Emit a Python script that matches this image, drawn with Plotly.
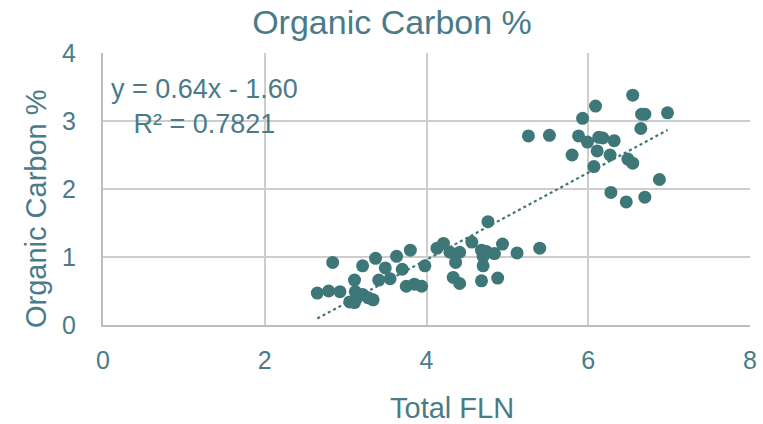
import plotly.graph_objects as go
import numpy as np

# Data
total_fln = [2.65, 2.79, 2.93, 2.84, 3.05, 3.11, 3.12, 3.14, 3.21, 3.28, 3.34, 3.11,
             3.21, 3.37, 3.49, 3.41, 3.55, 3.63, 3.70, 3.80, 3.75, 3.85, 3.94, 3.98,
             4.13, 4.21, 4.29, 4.41, 4.36, 4.33, 4.41, 4.56, 4.68, 4.72, 4.74, 4.70,
             4.70, 4.84, 4.68, 4.88, 4.94, 5.12, 4.76, 5.40,
             5.26, 5.52, 5.80, 5.88, 5.93, 5.99, 6.09, 6.11, 6.07, 6.13, 6.18, 6.27,
             6.32, 6.28, 6.47, 6.49, 6.55, 6.55, 6.65, 6.66, 6.70, 6.98, 6.70, 6.88]
organic_carbon = [0.47, 0.50, 0.49, 0.92, 0.34, 0.66, 0.49, 0.40, 0.45, 0.40, 0.37, 0.33,
                  0.87, 0.98, 0.84, 0.66, 0.68, 1.01, 0.82, 1.10, 0.57, 0.60, 0.57, 0.87,
                  1.13, 1.20, 1.07, 1.07, 0.92, 0.70, 0.61, 1.22, 1.10, 1.05, 1.08, 1.01,
                  0.87, 1.05, 0.65, 0.69, 1.19, 1.06, 1.52, 1.13,
                  2.78, 2.79, 2.50, 2.78, 3.04, 2.69, 3.22, 2.56, 2.33, 2.76, 2.75, 2.50,
                  2.71, 1.95, 1.81, 2.44, 2.38, 3.38, 2.89, 3.10, 3.10, 3.12, 1.88, 2.14]
slope = 0.64
intercept = -1.60
r_squared = 0.7821
x_ticks = [0, 2, 4, 6, 8]
y_ticks = [0, 1, 2, 3, 4]

marker_color = "#3E7778"
text_color = "#4A7B89"
grid_color = "#CDCDCD"
font_family = "Liberation Sans, Arial, sans-serif"

fig = go.Figure()
fig.add_trace(go.Scatter(
    x=total_fln, y=organic_carbon, mode="markers",
    marker=dict(color=marker_color, size=13, line=dict(width=0)),
    showlegend=False, hoverinfo="x+y"))

xl = np.array([min(total_fln), max(total_fln)])
fig.add_trace(go.Scatter(
    x=xl, y=slope * xl + intercept, mode="lines",
    line=dict(color=marker_color, width=2.2, dash="dot"),
    showlegend=False, hoverinfo="skip"))

# Trendline equation label
fig.add_annotation(
    x=1.26, y=3.21, xref="x", yref="y", xanchor="center", yanchor="middle",
    text=f"y = {slope:.2f}x - {abs(intercept):.2f}<br>R² = {r_squared}",
    showarrow=False, align="center",
    font=dict(family=font_family, size=27, color=text_color))

# Axis titles (placed as in the reference; paper coords relative to plot area)
fig.add_annotation(
    x=0.539, y=-0.305, xref="paper", yref="paper",
    xanchor="center", yanchor="middle", showarrow=False, text="Total FLN",
    font=dict(family=font_family, size=29, color=text_color))
fig.add_annotation(
    x=-0.1036, y=0.43, xref="paper", yref="paper",
    xanchor="center", yanchor="middle", showarrow=False, text="Organic Carbon %",
    textangle=-90,
    font=dict(family=font_family, size=29, color=text_color))

fig.update_layout(
    width=763, height=424,
    margin=dict(l=103, r=13, t=53, b=99),
    paper_bgcolor="white", plot_bgcolor="white",
    font=dict(family=font_family, color=text_color),
    title=dict(text="Organic Carbon %", x=392 / 763, xanchor="center",
               y=1 - 22 / 424, yanchor="middle",
               font=dict(family=font_family, size=34, color=text_color)),
)
fig.update_xaxes(
    range=[0, 8], tickvals=x_ticks, showgrid=True, gridcolor=grid_color, gridwidth=2,
    showline=True, linecolor="#BDBDBD", linewidth=2, zeroline=False, automargin=False,
    tickfont=dict(size=25, color=text_color), ticklabelstandoff=12)
fig.update_yaxes(
    range=[0, 4], tickvals=y_ticks, showgrid=True, gridcolor=grid_color, gridwidth=2,
    showline=True, linecolor="#BDBDBD", linewidth=2, zeroline=False, automargin=False,
    tickfont=dict(size=25, color=text_color), ticklabelstandoff=20)

fig.write_html("out.html")
